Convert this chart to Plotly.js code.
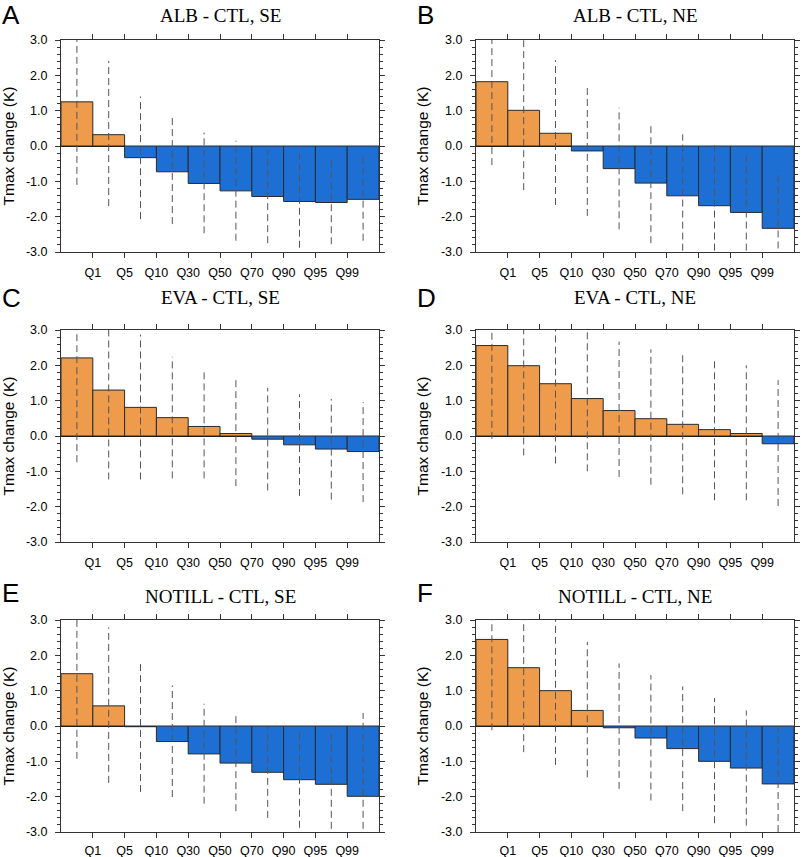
<!DOCTYPE html>
<html>
<head>
<meta charset="utf-8">
<script src="https://cdn.plot.ly/plotly-3.0.1.min.js"></script>
<style>
  body { margin: 0; background: #fff; }
  #graph { width: 802px; height: 857px; }
</style>
</head>
<body>
<div id="graph"></div>
<script>
// quantile boundaries between the 10 bins
const quantiles = ['Q1', 'Q5', 'Q10', 'Q30', 'Q50', 'Q70', 'Q90', 'Q95', 'Q99'];

const panelLetters = ['A', 'B', 'C', 'D', 'E', 'F'];
const panelTitles = ['ALB - CTL, SE', 'ALB - CTL, NE', 'EVA - CTL, SE', 'EVA - CTL, NE',
                     'NOTILL - CTL, SE', 'NOTILL - CTL, NE'];

// mean Tmax change per bin (K)
const albSE = [1.25, 0.32, -0.33, -0.73, -1.06, -1.27, -1.43, -1.57, -1.60, -1.51];
const albNE = [1.82, 1.01, 0.36, -0.14, -0.64, -1.05, -1.41, -1.69, -1.88, -2.33];
const evaSE = [2.21, 1.30, 0.81, 0.52, 0.27, 0.07, -0.09, -0.25, -0.37, -0.44];
const evaNE = [2.56, 1.99, 1.48, 1.06, 0.72, 0.49, 0.33, 0.18, 0.07, -0.22];
const notillSE = [1.48, 0.57, -0.02, -0.44, -0.79, -1.05, -1.31, -1.52, -1.65, -1.99];
const notillNE = [2.45, 1.65, 1.00, 0.44, -0.05, -0.34, -0.64, -1.00, -1.19, -1.64];

// spread (dashed lines): lower and upper ends
const albSELow = [-1.10, -1.70, -2.07, -2.21, -2.47, -2.68, -2.75, -2.88, -2.78, -2.68];
const albSEHigh = [3.0, 2.41, 1.40, 0.80, 0.38, 0.15, -0.11, -0.21, -0.36, -0.30];
const albNELow = [-0.54, -1.25, -1.67, -1.98, -2.36, -2.75, -2.96, -2.96, -2.96, -2.90];
const albNEHigh = [3.0, 3.0, 2.43, 1.70, 1.08, 0.66, 0.33, 0.02, -0.23, -0.70];
const evaSELow = [-0.74, -1.23, -1.23, -1.20, -1.20, -1.42, -1.54, -1.70, -1.80, -1.87];
const evaSEHigh = [3.0, 3.0, 2.87, 2.24, 1.80, 1.58, 1.36, 1.18, 1.05, 0.96];
const evaNELow = [-0.08, -0.55, -0.78, -1.00, -1.16, -1.38, -1.65, -1.82, -1.82, -1.98];
const evaNEHigh = [3.0, 3.0, 3.0, 3.0, 2.67, 2.45, 2.32, 2.16, 2.00, 1.58];
const notillSELow = [-0.93, -1.61, -1.87, -2.01, -2.20, -2.41, -2.60, -2.88, -2.91, -2.91];
const notillSEHigh = [3.0, 2.79, 1.82, 1.15, 0.63, 0.30, -0.03, -0.14, -0.19, 0.37];
const notillNELow = [-0.12, -0.74, -1.10, -1.45, -1.78, -2.11, -2.41, -2.75, -2.82, -3.0];
const notillNEHigh = [3.0, 3.0, 3.0, 2.38, 1.77, 1.44, 1.12, 0.79, 0.44, -0.05];

const means = [albSE, albNE, evaSE, evaNE, notillSE, notillNE];
const lows = [albSELow, albNELow, evaSELow, evaNELow, notillSELow, notillNELow];
const highs = [albSEHigh, albNEHigh, evaSEHigh, evaNEHigh, notillSEHigh, notillNEHigh];

const warmColor = '#ee9b4b';
const coolColor = '#1e6fd3';

const W = 802, H = 857;
// plot boxes in pixels [left, right] and [top, bottom]
const colsPx = [[61, 379], [476, 794]];
const rowsPx = [[40, 252], [330, 542], [620, 832]];
const titleYPx = [16, 297, 596];   // title centre per row
const letterYPx = [15, 298, 593];  // panel letter centre per row
const labelStandoff = [4, 4, 2];

function buildFigure() {
    const traces = [];
    const layout = {
        width: W, height: H,
        margin: {l: 0, r: 0, t: 0, b: 0},
        paper_bgcolor: '#fff', plot_bgcolor: '#fff',
        showlegend: false,
        font: {family: 'Liberation Sans, Arial, sans-serif', color: '#000'},
        annotations: []
    };
    const centers = Array.from({length: 10}, (_, i) => i + 0.5);
    const edges = quantiles.map((_, i) => i + 1);

    means.forEach((vals, p) => {
        const n = p + 1;
        const xa = n === 1 ? 'x' : 'x' + n;
        const ya = n === 1 ? 'y' : 'y' + n;
        const r = Math.floor(p / 2);
        const col = colsPx[p % 2], row = rowsPx[r];

        traces.push({
            type: 'bar', x: centers, y: vals, width: 1,
            xaxis: xa, yaxis: ya,
            marker: {color: vals.map(v => v >= 0 ? warmColor : coolColor),
                     line: {color: '#2a2a2a', width: 1}},
            hoverinfo: 'skip'
        });

        // dashed spread lines at bin centres
        const dx = [], dy = [];
        centers.forEach((c, i) => {
            dx.push(c, c, null);
            dy.push(lows[p][i], highs[p][i], null);
        });
        traces.push({
            type: 'scatter', mode: 'lines', x: dx, y: dy,
            xaxis: xa, yaxis: ya,
            line: {color: '#555', width: 1, dash: '7px,4px'},
            hoverinfo: 'skip'
        });

        const axKey = n === 1 ? '' : n;
        layout['xaxis' + axKey] = {
            domain: [col[0] / W, col[1] / W],
            anchor: ya, range: [0, 10],
            tickvals: edges, ticktext: quantiles,
            ticks: 'outside', ticklen: 5, tickwidth: 1, tickcolor: '#333',
            ticklabelstandoff: labelStandoff[r],
            showline: true, linecolor: '#333', linewidth: 1, mirror: 'ticks',
            showgrid: false, zeroline: false,
            tickfont: {size: 12.5, color: '#000'}, fixedrange: true
        };
        layout['yaxis' + axKey] = {
            domain: [1 - row[1] / H, 1 - row[0] / H],
            anchor: xa, range: [-3, 3],
            tickvals: [-3, -2, -1, 0, 1, 2, 3],
            ticktext: ['-3.0', '-2.0', '-1.0', '0.0', '1.0', '2.0', '3.0'],
            ticks: 'outside', ticklen: 5, tickwidth: 1, tickcolor: '#333',
            ticklabelstandoff: 5,
            minor: {dtick: 0.2, tick0: 0, ticks: 'outside', ticklen: 3, tickcolor: '#333', showgrid: false},
            showline: true, linecolor: '#333', linewidth: 1, mirror: 'ticks',
            showgrid: false, zeroline: true, zerolinecolor: '#111', zerolinewidth: 1,
            tickfont: {size: 12.5, color: '#000'},
            title: {text: 'Tmax change (K)', font: {size: 15.5, color: '#000'}, standoff: 8},
            fixedrange: true
        };

        // panel title and letter
        layout.annotations.push({
            text: panelTitles[p], xref: 'paper', yref: 'paper',
            x: (col[0] + col[1]) / 2 / W, y: 1 - titleYPx[r] / H,
            xanchor: 'center', yanchor: 'middle', showarrow: false,
            font: {family: 'Liberation Serif, Times New Roman, serif', size: 19, color: '#000'}
        });
        layout.annotations.push({
            text: panelLetters[p], xref: 'paper', yref: 'paper',
            x: (col[0] - 61) / W, y: 1 - letterYPx[r] / H,
            xanchor: 'left', yanchor: 'middle', showarrow: false,
            font: {family: 'Liberation Sans, Arial, sans-serif', size: 26, color: '#000'}
        });
    });

    return {traces, layout};
}

document.addEventListener('DOMContentLoaded', function() {
    const fig = buildFigure();
    Plotly.newPlot('graph', fig.traces, fig.layout, {staticPlot: true});
});
</script>
</body>
</html>
